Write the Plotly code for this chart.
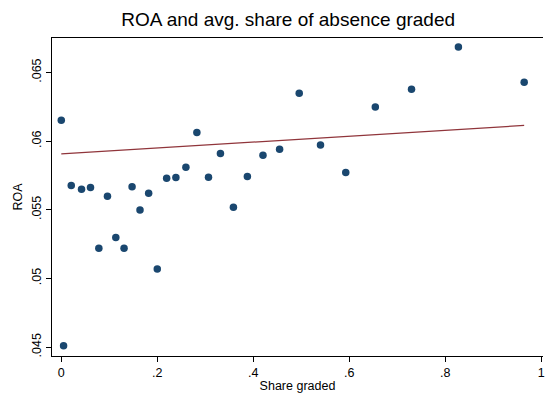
import plotly.graph_objects as go

share_graded = [0.0, 0.0048, 0.0208, 0.0422, 0.0609, 0.0783, 0.0962, 0.1136, 0.1308, 0.1475,
                0.164, 0.182, 0.2, 0.2195, 0.2388, 0.2596, 0.2825, 0.3067, 0.3316, 0.3586,
                0.3877, 0.4202, 0.4548, 0.4957, 0.54, 0.5926, 0.6542, 0.7296, 0.8273, 0.9643]
roa = [0.06152, 0.0451, 0.05677, 0.0565, 0.05662, 0.0522, 0.05599, 0.05298, 0.0522, 0.05667,
       0.05499, 0.05621, 0.05068, 0.0573, 0.05735, 0.0581, 0.06063, 0.05737, 0.0591, 0.05519,
       0.05742, 0.05897, 0.05941, 0.06349, 0.05972, 0.05771, 0.06249, 0.06378, 0.06686, 0.06429]

fit_x = [0.0, 0.9643]
fit_y = [0.05907, 0.06114]

x_tickvals = [0, 0.2, 0.4, 0.6, 0.8, 1]
x_ticktext = ["0", ".2", ".4", ".6", ".8", "1"]
y_tickvals = [0.045, 0.05, 0.055, 0.06, 0.065]
y_ticktext = [".045", ".05", ".055", ".06", ".065"]

fig = go.Figure()
fig.add_trace(go.Scatter(x=share_graded, y=roa, mode="markers",
                         marker=dict(color="#1a476f", size=7.5, line=dict(width=0)),
                         showlegend=False))
fig.add_trace(go.Scatter(x=fit_x, y=fit_y, mode="lines",
                         line=dict(color="#90353b", width=1.3), showlegend=False))

font = "Liberation Sans, Arial, sans-serif"
fig.update_layout(
    width=545, height=395,
    margin=dict(l=52, r=0, t=38, b=39),
    paper_bgcolor="white", plot_bgcolor="white",
    font=dict(family=font, color="black", size=12.5),
    title=dict(text="ROA and avg. share of absence graded", x=0.481, xref="paper",
               xanchor="center", y=0.95, yanchor="middle",
               font=dict(size=19, family=font, color="black")),
    xaxis=dict(range=[-0.0193, 1.0035], tickvals=x_tickvals, ticktext=x_ticktext,
               showgrid=False, zeroline=False, showline=True, linecolor="black", linewidth=1.2,
               mirror=True, ticks="outside", ticklen=5, tickcolor="black",
               ticklabeloverflow="allow",
               title=dict(text="Share graded", standoff=2, font=dict(size=12.5))),
    yaxis=dict(range=[0.04435, 0.06751], tickvals=y_tickvals, ticktext=y_ticktext,
               showgrid=False, zeroline=False, showline=True, linecolor="black", linewidth=1.2,
               ticks="outside", ticklen=5, tickcolor="black", tickangle=-90,
               title=dict(text="ROA", standoff=4, font=dict(size=12.5))),
)
fig.write_html("out.html", config={"displayModeBar": False},
               post_script="document.body.style.margin='0px';document.body.style.padding='0px';")
